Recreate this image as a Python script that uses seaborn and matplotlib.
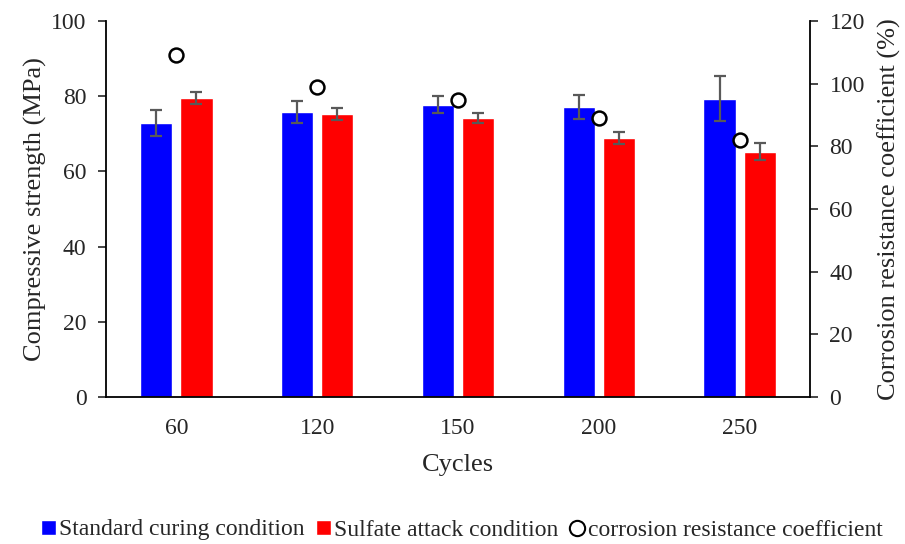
import matplotlib
matplotlib.use("Agg")
import matplotlib.pyplot as plt
import seaborn as sns
import pandas as pd
import numpy as np
from matplotlib.lines import Line2D
from matplotlib.patches import Patch

# Compressive strength (MPa) under two curing conditions
cycles = ["60", "120", "150", "200", "250"]
standard_strength = [72.9, 75.8, 77.7, 77.1, 79.3]
standard_err = [3.4, 3.0, 2.3, 3.2, 6.0]
sulfate_strength = [79.5, 75.3, 74.2, 68.9, 65.2]
sulfate_err = [1.5, 1.5, 1.2, 1.7, 2.3]
# Corrosion resistance coefficient (%)
corrosion_coeff = [109.2, 98.9, 94.8, 89.0, 82.0]

conditions = ["Standard curing condition", "Sulfate attack condition"]

sns.set_style("white")
plt.rcParams["font.family"] = ["Liberation Serif", "DejaVu Serif"]

df = pd.DataFrame({
    "Cycles": cycles * 2,
    "Strength": standard_strength + sulfate_strength,
    "Condition": [conditions[0]] * 5 + [conditions[1]] * 5,
})

fig = plt.figure(figsize=(9.05, 5.44), dpi=100)
ax = fig.add_axes([106 / 905, 147 / 544, 704 / 905, 376 / 544])

sns.barplot(data=df, x="Cycles", y="Strength", hue="Condition",
            palette=["#0000FF", "#FF0000"], width=0.57, gap=0.2,
            errorbar=None, ax=ax, legend=False, saturation=1)

# error bars at the centre of each drawn bar
errs = standard_err + sulfate_err
vals = standard_strength + sulfate_strength
for patch, v, e in zip(ax.patches, vals, errs):
    xc = patch.get_x() + patch.get_width() / 2
    ax.errorbar(xc, v, yerr=e, color="#595959", capsize=4.5,
                elinewidth=1.6, capthick=1.6, zorder=5)

ax.set_xlim(-0.5, 4.5)
ax.set_ylim(0, 100)
ax.set_yticks(np.arange(0, 101, 20))
ax.set_xlabel("Cycles", fontsize=19, labelpad=11)
ax.set_ylabel("Compressive strength (MPa)", fontsize=19, labelpad=3)
ax.tick_params(axis="y", labelsize=17, direction="out", length=6, width=1.2,
               left=True, pad=8)
ax.tick_params(axis="x", labelsize=17, length=0, pad=15)
for s in ["left", "bottom"]:
    ax.spines[s].set_color("black")
    ax.spines[s].set_linewidth(1.3)
ax.spines["top"].set_visible(False)
ax.spines["right"].set_visible(False)

ax2 = ax.twinx()
ax2.plot(range(len(cycles)), corrosion_coeff, linestyle="none", marker="o",
         markersize=10, markerfacecolor="white", markeredgecolor="black",
         markeredgewidth=1.8, zorder=6)
ax2.set_ylim(0, 120)
ax2.set_yticks(np.arange(0, 121, 20))
ax2.set_ylabel("Corrosion resistance coefficient (%)", fontsize=19, labelpad=9)
ax2.tick_params(axis="y", labelsize=17, direction="out", length=6, width=1.2,
                right=True, pad=8)
ax2.spines["right"].set_visible(True)
ax2.spines["right"].set_color("black")
ax2.spines["right"].set_linewidth(1.3)
ax2.spines["top"].set_visible(False)
ax2.spines["left"].set_visible(False)
ax2.spines["bottom"].set_visible(False)

handles = [
    Patch(facecolor="#0000FF", label=conditions[0]),
    Patch(facecolor="#FF0000", label=conditions[1]),
    Line2D([], [], linestyle="none", marker="o", markersize=11,
           markerfacecolor="white", markeredgecolor="black",
           markeredgewidth=1.5, label="corrosion resistance coefficient"),
]
fig.legend(handles=handles, loc="center", bbox_to_anchor=(462 / 905, 1 - 530 / 544),
           ncol=3, frameon=False, fontsize=17, handlelength=0.6, handleheight=0.6,
           handletextpad=0.15, columnspacing=0.5)

fig.savefig("out.png", dpi=100)
